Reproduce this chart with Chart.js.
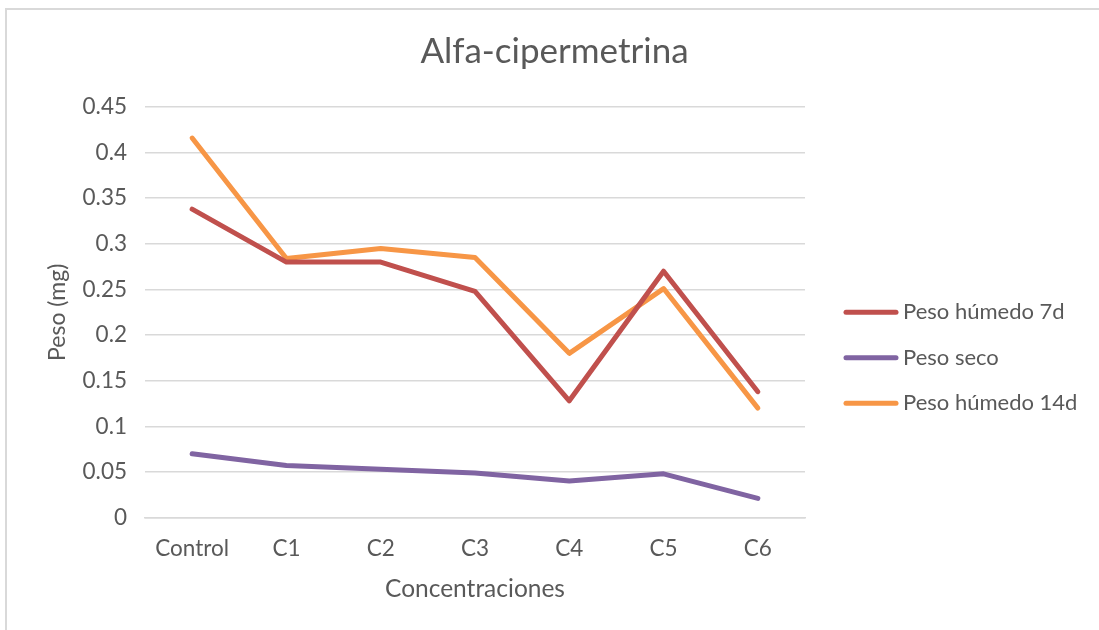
<!DOCTYPE html>
<html>
<head>
<meta charset="utf-8">
<script src="https://cdn.jsdelivr.net/npm/chart.js@4.4.0/dist/chart.umd.min.js"></script>
<style>
  html, body { margin: 0; padding: 0; background: #fff; overflow: hidden; }
  #frame { position: absolute; left: 5px; top: 8px; width: 1100px; height: 640px; border: 2px solid #d9d9d9; box-sizing: border-box; }
  #wrap { position: absolute; left: 0; top: 0; width: 1099px; height: 630px; }
</style>
</head>
<body>
<div id="frame"></div>
<div id="wrap"><canvas id="chart"></canvas></div>
<script>
const categorias = ['Control', 'C1', 'C2', 'C3', 'C4', 'C5', 'C6'];
const pesoHumedo7d = [0.338, 0.280, 0.280, 0.248, 0.128, 0.270, 0.138];
const pesoSeco = [0.070, 0.057, 0.053, 0.049, 0.040, 0.048, 0.021];
const pesoHumedo14d = [0.416, 0.284, 0.295, 0.285, 0.180, 0.251, 0.120];

const fuente = 'Lato, "Liberation Sans", sans-serif';
const gris = '#595959';

function serie(label, data, color) {
  return {
    label, data,
    borderColor: color,
    backgroundColor: color,
    borderWidth: 5,
    borderCapStyle: 'round',
    borderJoinStyle: 'round',
    pointRadius: 0,
    tension: 0,
    fill: false
  };
}

// leyenda a la derecha, dibujada a mano en el hueco que deja el eje "hueco"
const leyenda = {
  id: 'leyenda',
  afterDraw(chart) {
    const { ctx, chartArea } = chart;
    const x0 = chartArea.right + 39;
    const yMid = (chartArea.top + chartArea.bottom) / 2 + 45.5;
    chart.data.datasets.forEach((ds, i) => {
      const y = yMid + (i - 1) * 45.5;
      ctx.save();
      ctx.strokeStyle = ds.borderColor;
      ctx.lineWidth = 5;
      ctx.lineCap = 'round';
      ctx.beginPath();
      ctx.moveTo(x0 + 2, y);
      ctx.lineTo(x0 + 52, y);
      ctx.stroke();
      ctx.fillStyle = gris;
      ctx.font = '22px ' + fuente;
      ctx.textBaseline = 'middle';
      ctx.fillText(ds.label, x0 + 59, y);
      ctx.restore();
    });
  }
};

const ctx = document.getElementById('chart').getContext('2d');
new Chart(ctx, {
  type: 'line',
  data: {
    labels: categorias,
    datasets: [
      serie('Peso húmedo 7d', pesoHumedo7d, '#c0504d'),
      serie('Peso seco', pesoSeco, '#8064a2'),
      serie('Peso húmedo 14d', pesoHumedo14d, '#f79646')
    ]
  },
  plugins: [leyenda],
  options: {
    responsive: true,
    maintainAspectRatio: false,
    animation: false,
    layout: { padding: { left: 10, right: 0, top: 8, bottom: 22 } },
    plugins: {
      title: {
        display: true,
        text: 'Alfa-cipermetrina',
        color: gris,
        font: { family: fuente, size: 35, weight: 'normal' },
        padding: { top: 23, bottom: 34 }
      },
      legend: { display: false },
      tooltip: { enabled: false }
    },
    scales: {
      x: {
        offset: true,
        grid: { display: false, drawTicks: false },
        border: { display: true, color: '#d9d9d9', width: 1.5 },
        ticks: { color: gris, font: { family: fuente, size: 22.5 }, padding: 17.5 },
        title: {
          display: true, text: 'Concentraciones', color: gris,
          font: { family: fuente, size: 24.5 }, padding: { top: -5 }
        }
      },
      y: {
        min: 0, max: 0.45,
        afterFit: (s) => { s.width = 135; },
        grid: { color: '#d9d9d9', lineWidth: 1.5, drawTicks: false },
        border: { display: false },
        ticks: {
          stepSize: 0.05, color: gris, padding: 18,
          font: { family: fuente, size: 22.5 },
          callback: (v) => String(Math.round(v * 100) / 100)
        },
        title: {
          display: true, text: 'Peso (mg)', color: gris,
          font: { family: fuente, size: 23 }, padding: { top: 34 }
        }
      },
      hueco: {
        position: 'right',
        display: true,
        afterFit: (s) => { s.width = 294; },
        grid: { display: false, drawTicks: false },
        border: { display: false },
        ticks: { display: false }
      }
    }
  }
});
</script>
</body>
</html>
